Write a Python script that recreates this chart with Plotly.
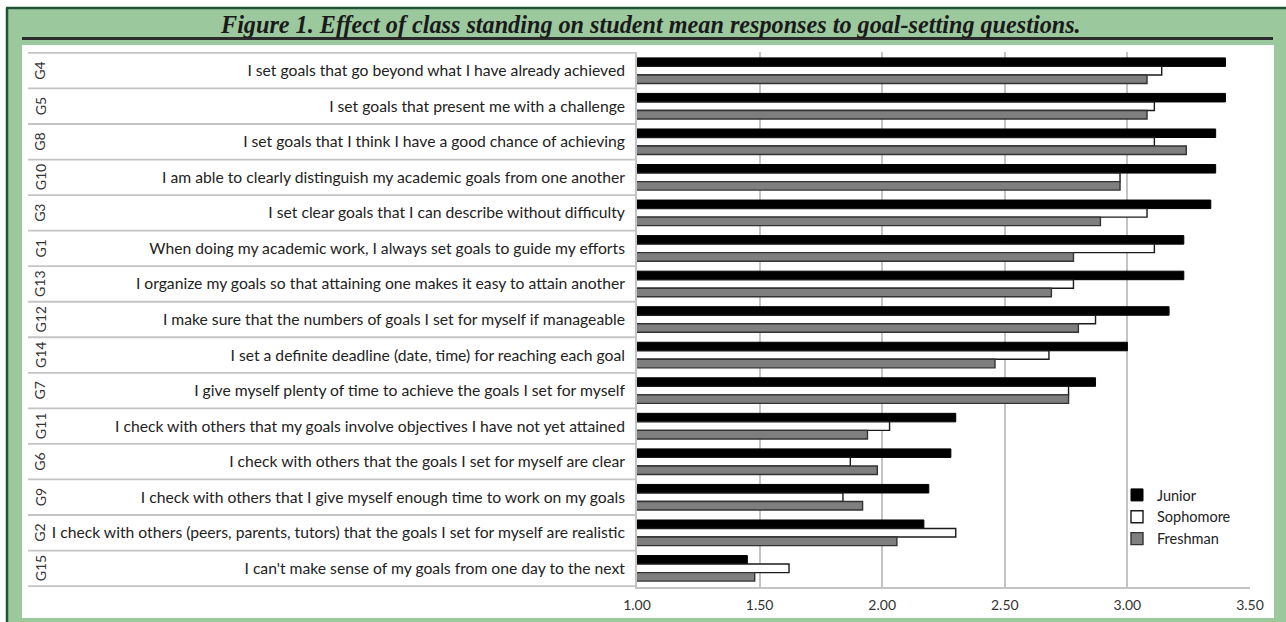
import plotly.graph_objects as go

W, H = 1286, 622

codes = ["G4", "G5", "G8", "G10", "G3", "G1", "G13", "G12", "G14", "G7",
         "G11", "G6", "G9", "G2", "G15"]
statements = [
    "I set goals that go beyond what I have already achieved",
    "I set goals that present me with a challenge",
    "I set goals that I think I have a good chance of achieving",
    "I am able to clearly distinguish my academic goals from one another",
    "I set clear goals that I can describe without difficulty",
    "When doing my academic work, I always set goals to guide my efforts",
    "I organize my goals so that attaining one makes it easy to attain another",
    "I make sure that the numbers of goals I set for myself if manageable",
    "I set a definite deadline (date, time) for reaching each goal",
    "I give myself plenty of time to achieve the goals I set for myself",
    "I check with others that my goals involve objectives I have not yet attained",
    "I check with others that the goals I set for myself are clear",
    "I check with others that I give myself enough time to work on my goals",
    "I check with others (peers, parents, tutors) that the goals I set for myself are realistic",
    "I can't make sense of my goals from one day to the next",
]
junior = [3.40, 3.40, 3.36, 3.36, 3.34, 3.23, 3.23, 3.17, 3.00, 2.87,
          2.30, 2.28, 2.19, 2.17, 1.45]
sophomore = [3.14, 3.11, 3.11, 2.97, 3.08, 3.11, 2.78, 2.87, 2.68, 2.76,
             2.03, 1.87, 1.84, 2.30, 1.62]
freshman = [3.08, 3.08, 3.24, 2.97, 2.89, 2.78, 2.69, 2.80, 2.46, 2.76,
            1.94, 1.98, 1.92, 2.06, 1.48]
x_ticks = [1.0, 1.5, 2.0, 2.5, 3.0, 3.5]
x_ticktext = ["1.00", "1.50", "2.00", "2.50", "3.00", "3.50"]
series_names = ["Junior", "Sophomore", "Freshman"]

title_text = "Figure 1. Effect of class standing on student mean responses to goal-setting questions."

GREEN = "#9cc89e"
DARKGREEN = "#1d5536"
GRID = "#c4c4c4"
FONT = "Lato"


def px(x):
    return x / W


def py(y):
    return 1 - y / H


fig = go.Figure()
styles = [
    dict(color="#000000", line=dict(color="#000000", width=1)),
    dict(color="#ffffff", line=dict(color="#1a1a1a", width=1.4)),
    dict(color="#7f7f7f", line=dict(color="#333333", width=1.4)),
]
for name, vals, st in zip(series_names, [junior, sophomore, freshman], styles):
    fig.add_trace(go.Bar(
        y=codes, x=vals, name=name, orientation="h",
        marker=st, legendgroup=name,
    ))

shapes = []
shapes.append(dict(type="rect", xref="paper", yref="paper",
                   x0=px(6), x1=px(W + 2), y0=py(H + 2), y1=py(8),
                   fillcolor=GREEN, line=dict(width=0), layer="below"))
shapes.append(dict(type="line", xref="paper", yref="paper",
                   x0=px(6), x1=px(W + 2), y0=py(8), y1=py(8),
                   line=dict(color=DARKGREEN, width=2.5), layer="below"))
shapes.append(dict(type="line", xref="paper", yref="paper",
                   x0=px(7), x1=px(7), y0=py(8), y1=py(H + 2),
                   line=dict(color=DARKGREEN, width=2.5), layer="below"))
shapes.append(dict(type="line", xref="paper", yref="paper",
                   x0=px(22), x1=px(1273), y0=py(38.5), y1=py(38.5),
                   line=dict(color="#2b2b2b", width=3), layer="below"))
shapes.append(dict(type="rect", xref="paper", yref="paper",
                   x0=px(22), x1=px(1274), y0=py(618), y1=py(45),
                   fillcolor="#ffffff", line=dict(width=0), layer="below"))
for i in range(len(codes) + 1):
    shapes.append(dict(type="line", xref="paper", yref="y",
                       x0=px(28), x1=px(637), y0=i - 0.5, y1=i - 0.5,
                       line=dict(color=GRID, width=1.8), layer="above"))

annotations = [dict(
    text=title_text, xref="paper", yref="paper", x=px(650), y=py(24),
    xanchor="center", yanchor="middle", showarrow=False,
    font=dict(family="Liberation Serif", size=24.2, color="#1a1a1a",
              weight="bold", style="italic"),
)]
for c in codes:
    annotations.append(dict(
        text=c, xref="paper", yref="y", x=px(40), y=c, textangle=-90,
        xanchor="center", yanchor="middle", showarrow=False,
        font=dict(family=FONT, size=14, color="#333333"),
    ))

fig.update_layout(
    width=W, height=H,
    margin=dict(l=0, r=0, t=0, b=0, pad=0, autoexpand=False),
    paper_bgcolor="#ffffff",
    plot_bgcolor="#ffffff",
    barmode="group",
    bargap=0.28,
    bargroupgap=0.0,
    font=dict(family=FONT, size=15, color="#222222"),
    shapes=shapes,
    annotations=annotations,
    showlegend=True,
    legend=dict(
        x=px(1117), y=py(479), xanchor="left", yanchor="top",
        bgcolor="rgba(0,0,0,0)", font=dict(family=FONT, size=14.5, color="#222222"),
        traceorder="normal", tracegroupgap=3, itemwidth=30,
    ),
    xaxis=dict(
        domain=[px(637), px(1250)],
        range=[1.0, 3.5],
        tickvals=x_ticks, ticktext=x_ticktext,
        showgrid=True, gridcolor=GRID, gridwidth=1.5,
        showline=True, linecolor=GRID, linewidth=1.8,
        zeroline=False, ticks="", automargin=False, ticklabelstandoff=4,
        tickfont=dict(family=FONT, size=14, color="#333333"),
        fixedrange=True,
    ),
    yaxis=dict(
        domain=[py(587), py(52)],
        autorange="reversed",
        type="category",
        tickvals=codes, ticktext=statements,
        showgrid=False, automargin=False,
        showline=True, linecolor=GRID, linewidth=1.8,
        ticks="", ticklabelstandoff=7,
        tickfont=dict(family=FONT, size=15.7, color="#222222"),
        fixedrange=True,
    ),
)

fig.write_html(
    "out.html",
    post_script="document.body.style.margin='0';document.body.style.overflow='hidden';",
)
